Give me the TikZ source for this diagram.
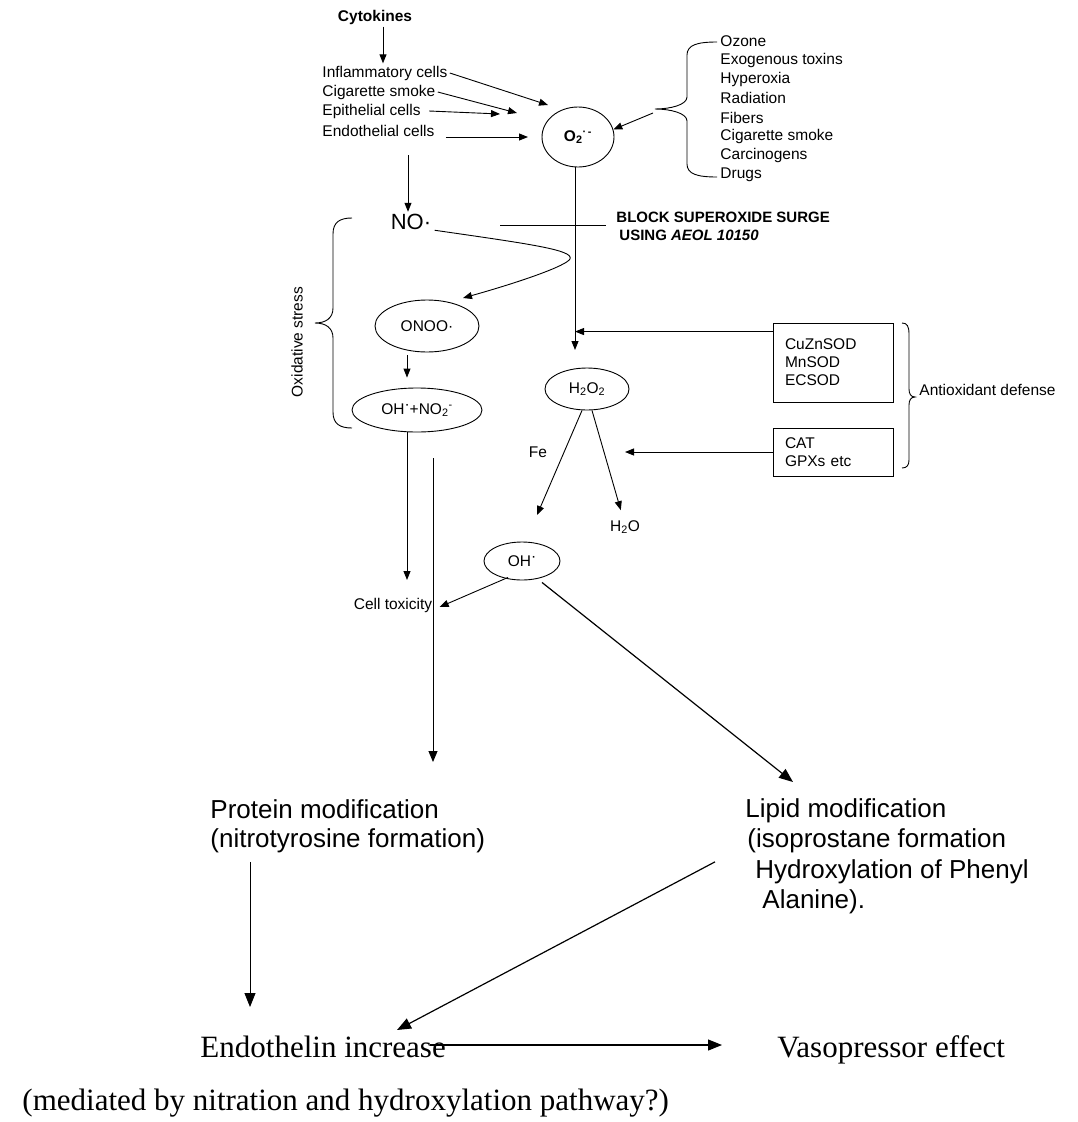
\documentclass[tikz,border=0pt]{standalone}
\usepackage{fontspec}
\setmainfont{Liberation Serif}
\setsansfont{Liberation Sans}
\usetikzlibrary{arrows.meta,shapes.geometric,positioning}

\tikzset{
  lbl/.style={font=\sffamily\fontsize{15.5}{19}\selectfont, inner sep=2pt},
  specie/.style={draw, ellipse, inner sep=0pt, font=\sffamily\fontsize{15.5}{19}\selectfont},
  enzbox/.style={draw, rectangle, align=left, text width=96pt, inner xsep=12pt, inner ysep=0pt,
    font=\sffamily\fontsize{15.5}{18}\selectfont},
  big/.style={font=\sffamily\fontsize{26}{30}\selectfont, inner sep=0pt, anchor=base west},
  serif/.style={font=\rmfamily\fontsize{31}{36}\selectfont, inner sep=0pt, anchor=base west},
  arr/.style={-{Triangle[length=9pt,width=7pt]}},
  arrB/.style={-{Triangle[length=14pt,width=11pt]}, line width=1.2pt},
}

\begin{document}
\begin{tikzpicture}[x=1pt,y=1pt,line width=0.9pt]
\useasboundingbox (0,0) rectangle (1078,-1122);

% sources of superoxide
\node[lbl, font=\sffamily\bfseries\fontsize{15.5}{19}\selectfont] (cyto) at (375,-17) {Cytokines};
\node[lbl, anchor=west] (infl) at (320,-73) {Inflammatory cells};
\node[lbl, anchor=west] (cig) at (320,-92) {Cigarette smoke};
\node[lbl, anchor=west] (epi) at (320,-111) {Epithelial cells};
\node[lbl, anchor=west] (endo) at (320,-131) {Endothelial cells};

\node[specie, minimum width=72pt, minimum height=60pt, font=\sffamily\bfseries\fontsize{15.5}{19}\selectfont]
  (o2) at (578,-137) {O\textsubscript{2}\textsuperscript{·\,-}};

\foreach \t [count=\i from 0] in {Ozone, Exogenous toxins, Hyperoxia, Radiation, Fibers, Cigarette smoke, Carcinogens, Drugs}
  \node[lbl, anchor=west] (env\i) at (718,-41-19.15*\i) {\t};

\draw (717,-42) .. controls (697,-42) and (687,-45) .. (687,-55) -- (687,-97)
  .. controls (687,-105) and (670,-109) .. (655,-109)
  .. controls (670,-109) and (687,-113) .. (687,-121) -- (687,-164)
  .. controls (687,-174) and (697,-177) .. (717,-177);

\coordinate (envTip) at (653,-113);
\coordinate (inflTip) at (548,-105);
\coordinate (cigTip) at (517,-113);
\coordinate (epiTip) at (500,-114);
\coordinate (endoTip) at (528,-137);

\draw[arr] ([xshift=8pt]cyto.south) -- ([xshift=8pt]cyto.south |- infl.north);
\draw[arr] (infl.east) -- (inflTip);
\draw[arr] (cig.east) -- (cigTip);
\draw[arr] ([xshift=6pt]epi.east) -- (epiTip);
\draw[arr] ([xshift=9pt,yshift=-6pt]endo.east) -- (endoTip);
\draw[arr] (envTip) -- (o2.12);

% nitric oxide branch
\node[lbl, font=\sffamily\fontsize{22}{26}\selectfont] (no) at (411,-222) {NO·};
\coordinate (noIn) at (408,-155);
\draw[arr] (noIn) -- (noIn |- no.north);

\node[specie, minimum width=104pt, minimum height=52pt] (onoo) at (427,-326) {ONOO·};
\node[specie, minimum width=130pt, minimum height=44pt] (ohno) at (417,-410)
  {OH\raisebox{0.3em}{·}+NO\textsubscript{2}\textsuperscript{-}};

\coordinate (onooTip) at (463,-298);
\draw[arr] ([xshift=1pt,yshift=2pt]no.south east) .. controls (530,-244) and (574,-250) .. (570,-259)
  .. controls (566,-266) and (520,-282) .. (onooTip);
\draw[arr] ([xshift=-20pt,yshift=-3pt]onoo.south) -- ([xshift=-10pt,yshift=10pt]ohno.north);

\draw (352,-218) .. controls (340,-218) and (333,-222) .. (333,-234) -- (333,-308)
  .. controls (333,-318) and (326,-323) .. (315,-323)
  .. controls (326,-323) and (333,-328) .. (333,-338) -- (333,-412)
  .. controls (333,-424) and (340,-428) .. (352,-428);
\node[lbl, rotate=90] (oxst) at (297,-342) {Oxidative stress};

% block and dismutation
\node[lbl, font=\sffamily\bfseries\fontsize{15}{18}\selectfont, anchor=west, align=left] (block) at (614,-226)
  {BLOCK SUPEROXIDE SURGE\\\hspace{3pt}USING \textit{AEOL 10150}};
\coordinate (blockL) at (500,-225);
\draw (blockL) -- ([xshift=-8pt,yshift=1pt]block.west);

\node[specie, minimum width=84pt, minimum height=42pt] (h2o2) at (587,-389) {H\textsubscript{2}O\textsubscript{2}};
\coordinate (h2o2In) at (575,-350);
\draw[arr] (o2.south -| h2o2In) -- (h2o2In);

\node[enzbox, minimum height=79pt] (sod) at (833,-362.5) {CuZnSOD\\MnSOD\\ECSOD};
\node[enzbox, minimum height=48pt] (cat) at (833,-452) {CAT\\GPXs etc\\[6pt]};
\draw[arr] ([yshift=-9pt]sod.north west) -- ([yshift=-9pt]sod.north west -| h2o2In);
\coordinate (catTip) at (625,-452);
\draw[arr] (cat.west) -- (cat.west -| catTip);

\draw (902,-323) .. controls (907,-323) and (909,-326) .. (909,-334) -- (909,-389)
  .. controls (909,-394) and (911,-397) .. (915,-397)
  .. controls (911,-397) and (909,-400) .. (909,-405) -- (909,-460)
  .. controls (909,-465) and (907,-468) .. (902,-468);
\node[lbl, anchor=west] (antiox) at (917,-390) {Antioxidant defense};

% hydroxyl radical
\node[lbl] (fe) at (538,-452) {Fe};
\node[lbl] (h2o) at (625,-527) {H\textsubscript{2}O};
\node[specie, minimum width=76pt, minimum height=38pt] (ohr) at (522,-561) {OH\raisebox{0.3em}{·}};
\coordinate (ohTip) at (537,-515);
\draw[arr] ([xshift=-5pt]h2o2.south) -- (ohTip);
\draw[arr, shorten >=8pt] ([xshift=5pt]h2o2.south) -- ([xshift=-2pt]h2o.north);

\node[lbl] (tox) at (393,-605) {Cell toxicity};
\coordinate (toxIn) at (407,-580);
\draw[arr] ([xshift=-10pt]ohno.south) -- (toxIn);
\draw[arr] ([xshift=-14pt,yshift=3pt]ohr.south) -- ([xshift=5pt,yshift=-2pt]tox.east);

\coordinate (protTop) at (433,-458);
\coordinate (protTip) at (433,-762);
\draw[-{Triangle[length=11pt,width=9pt]}] (protTop) -- (protTip);
\coordinate (lipidTip) at (793,-782);
\draw[arrB] ([xshift=20pt,yshift=-2pt]ohr.south) -- (lipidTip);

% modifications and outcome
\node[big] (prot1) at (210,-818) {Protein modification};
\node[big] (prot2) at (210,-847) {(nitrotyrosine formation)};
\node[big] (lip1) at (745,-817) {Lipid modification};
\node[big] (lip2) at (747,-847) {(isoprostane formation};
\node[big] (lip3) at (755,-878) {Hydroxylation of Phenyl};
\node[big] (lip4) at (762,-908) {Alanine).};

\node[serif] (endi) at (200,-1057) {Endothelin increase};
\node[serif] (vaso) at (777,-1057) {Vasopressor effect};
\node[serif] (medi) at (22,-1110) {(mediated by nitration and hydroxylation pathway?)};

\coordinate (endiIn) at (250,-1007);
\draw[arrB, line width=0.9pt, shorten <=9pt] (endiIn |- prot2.south) -- (endiIn);
\coordinate (endiTip) at (397,-1030);
\draw[arrB] ([xshift=-32pt,yshift=-9pt]lip2.south west) -- (endiTip);
\coordinate (vasoTip) at (722,-1045);
\draw[arrB] ([xshift=-16pt]endi.east |- vasoTip) -- (vasoTip);
\end{tikzpicture}
\end{document}
